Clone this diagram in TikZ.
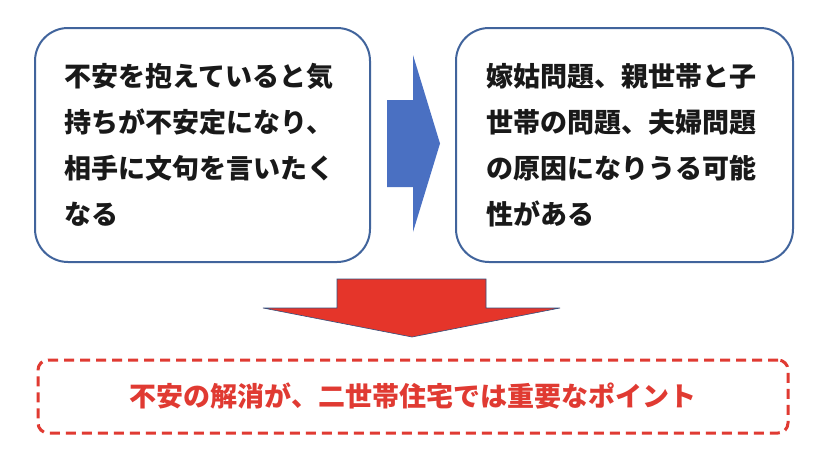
\documentclass[tikz,border=0pt]{standalone}
\usepackage{fontspec}
\newfontfamily\jpfont{Noto Sans CJK JP}
\usetikzlibrary{positioning}

\definecolor{boxblue}{HTML}{41649C}
\definecolor{arrowblue}{HTML}{4A70C2}
\definecolor{arrowred}{HTML}{E5352A}
\definecolor{pointred}{HTML}{E03A32}

\begin{document}
\begin{tikzpicture}[x=1pt,y=-1pt,
	textbox/.style={draw=boxblue,line width=2pt,rounded corners=33pt,
		minimum width=335pt,minimum height=234pt,text width=276pt,align=left,
		font=\jpfont\bfseries\fontsize{27}{46}\selectfont,text=black!90},
	pointbox/.style={draw=pointred,line width=3pt,dash pattern=on 10pt off 6pt,
		rounded corners=10pt,minimum width=750pt,minimum height=73pt,
		font=\jpfont\bfseries\fontsize{27}{32}\selectfont,text=pointred}]
	\useasboundingbox[fill=white] (0,0) rectangle (828,471);
	\node[textbox] (cause) at (202.5,145)
		{不安を抱えていると気\\持ちが不安定になり、\\相手に文句を言いたく\\なる};
	\node[textbox,minimum width=337pt] (effect) [right=84pt of cause]
		{嫁姑問題、親世帯と子\\世帯の問題、夫婦問題\\の原因になりうる可能\\性がある};
	\node[pointbox] (point) at (413,396.5)
		{不安の解消が、二世帯住宅では重要なポイント};
	% block arrows
	\fill[arrowblue] (387,100) -- (413,100) -- (413,55) -- (440,143.5)
		-- (413,232) -- (413,187) -- (387,187) -- cycle;
	\filldraw[fill=arrowred,draw=boxblue!80!black,line width=0.6pt]
		(337,279) -- (486,279) -- (486,308) -- (560,308) -- (412,337)
		-- (263,308) -- (337,308) -- cycle;
\end{tikzpicture}
\end{document}
